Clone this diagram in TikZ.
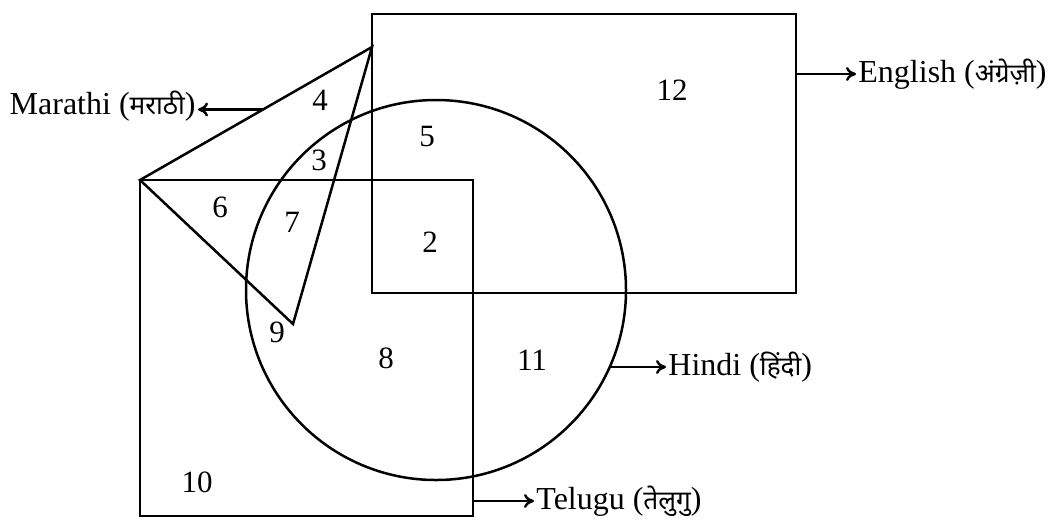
\documentclass[tikz,border=0pt]{standalone}
\usepackage{fontspec}
\setmainfont{Liberation Serif}
\newfontfamily\devfont[Script=Devanagari, Scale=0.82]{Noto Sans}
\usetikzlibrary{positioning, arrows.meta, calc}

\tikzset{
    setline/.style={line width=1.25pt},
    region/.style={font=\fontsize{15.5}{17}\selectfont, inner sep=0pt},
    langlabel/.style={font=\fontsize{16}{19}\selectfont, inner sep=1pt},
    pointer/.style={line width=1.2pt, -{To[length=5pt, width=7pt]}}
}

\begin{document}
\begin{tikzpicture}[x=0.5pt, y=-0.5pt]
    \useasboundingbox (0,0) rectangle (1048,527);

    % Corner points of the sets
    \coordinate (mA) at (140,180);
    \coordinate (mB) at (372,47);
    \coordinate (mC) at (293,324);
    \coordinate (hc) at (436,290);

    % English rectangle
    \draw[setline] (372,14) rectangle (796,293);
    % Telugu rectangle
    \draw[setline] (mA) rectangle (473,516);
    % Hindi circle
    \draw[setline] (hc) circle [radius=190];
    % Marathi triangle
    \draw[setline] (mA) -- (mB) -- (mC) -- cycle;

    % Region numbers
    \node[region] (n12) at (672,90) {12};
    \node[region] (n4) at (320,100) {4};
    \node[region] (n5) at (427,136) {5};
    \node[region] (n3) at (319,160) {3};
    \node[region] (n6) at (220,207) {6};
    \node[region] (n7) at (292,222) {7};
    \node[region] (n2) at (430,242) {2};
    \node[region] (n9) at (277,332) {9};
    \node[region] (n8) at (386,358) {8};
    \node[region] (n11) at (532,360) {11};
    \node[region] (n10) at (197,482) {10};

    % Set names
    \node[langlabel, anchor=east] (mar) at (198,106) {Marathi ({\devfont मराठी})};
    \node[langlabel, anchor=west] (eng) at (856,74) {English ({\devfont अंग्रेज़ी})};
    \node[langlabel, anchor=west] (hin) at (666,367) {Hindi ({\devfont हिंदी})};
    \node[langlabel, anchor=west] (tel) at (534,501) {Telugu ({\devfont तेलुगु})};

    % Pointers from the sets to their names
    \coordinate (marS) at ($(mA)!0.53!(mB)$);
    \coordinate (engS) at (796,74);
    \coordinate (hinS) at (610,367);
    \coordinate (telS) at (473,501);
    \draw[pointer] (marS) -- (mar.east |- marS);
    \draw[pointer] (engS) -- (eng.west);
    \draw[pointer] (hinS) -- (hin.west);
    \draw[pointer] (telS) -- (tel.west);
\end{tikzpicture}
\end{document}
